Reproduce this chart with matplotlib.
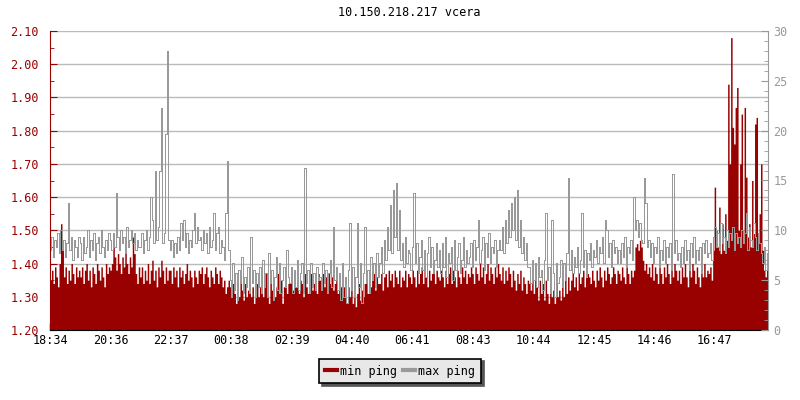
import numpy as np
import matplotlib
matplotlib.use("Agg")
import matplotlib.pyplot as plt
from matplotlib.lines import Line2D
from matplotlib.ticker import MultipleLocator

plt.rcParams['font.family'] = ['DejaVu Sans Mono']

title = "10.150.218.217 vcera"
time_labels = ["18:34", "20:36", "22:37", "00:38", "02:39", "04:40",
               "06:41", "08:43", "10:44", "12:45", "14:46", "16:47"]
step_min = 3  # one sample every 3 minutes, 24 h in total, one row = 1 hour

# min ping (left axis)
min_ping = [
    1.35, 1.38, 1.34, 1.39, 1.36, 1.33, 1.40, 1.52, 1.46, 1.36, 1.39, 1.34, 1.38, 1.35, 1.40, 1.37, 1.34, 1.39, 1.36, 1.38,
    1.36, 1.39, 1.34, 1.38, 1.40, 1.35, 1.38, 1.33, 1.39, 1.37, 1.34, 1.40, 1.38, 1.35, 1.39, 1.36, 1.33, 1.40, 1.37, 1.39,
    1.38, 1.40, 1.47, 1.42, 1.38, 1.43, 1.40, 1.37, 1.42, 1.39, 1.44, 1.40, 1.37, 1.42, 1.39, 1.48, 1.43, 1.37, 1.34, 1.39,
    1.36, 1.39, 1.34, 1.38, 1.35, 1.40, 1.34, 1.38, 1.41, 1.35, 1.38, 1.33, 1.39, 1.36, 1.41, 1.38, 1.34, 1.39, 1.35, 1.38,
    1.38, 1.34, 1.39, 1.36, 1.38, 1.33, 1.39, 1.36, 1.38, 1.34, 1.37, 1.40, 1.35, 1.38, 1.36, 1.33, 1.38, 1.36, 1.34, 1.38,
    1.37, 1.39, 1.34, 1.37, 1.39, 1.36, 1.33, 1.38, 1.36, 1.34, 1.39, 1.37, 1.34, 1.38, 1.36, 1.33, 1.35, 1.31, 1.33, 1.35,
    1.33, 1.30, 1.34, 1.31, 1.28, 1.33, 1.30, 1.35, 1.32, 1.29, 1.34, 1.30, 1.32, 1.35, 1.30, 1.33, 1.28, 1.32, 1.34, 1.30,
    1.33, 1.36, 1.30, 1.34, 1.37, 1.31, 1.28, 1.34, 1.32, 1.36, 1.30, 1.33, 1.37, 1.31, 1.35, 1.28, 1.33, 1.36, 1.31, 1.34,
    1.34, 1.37, 1.32, 1.36, 1.33, 1.37, 1.31, 1.35, 1.34, 1.30, 1.37, 1.33, 1.31, 1.36, 1.37, 1.32, 1.34, 1.36, 1.31, 1.37,
    1.35, 1.32, 1.37, 1.33, 1.36, 1.31, 1.37, 1.34, 1.36, 1.32, 1.34, 1.37, 1.31, 1.34, 1.33, 1.30, 1.33, 1.31, 1.28, 1.33,
    1.30, 1.33, 1.28, 1.32, 1.27, 1.31, 1.34, 1.29, 1.32, 1.30, 1.34, 1.35, 1.31, 1.36, 1.33, 1.35, 1.37, 1.32, 1.36, 1.34,
    1.34, 1.37, 1.32, 1.36, 1.37, 1.33, 1.38, 1.35, 1.37, 1.33, 1.38, 1.36, 1.34, 1.38, 1.33, 1.36, 1.35, 1.38, 1.33, 1.37,
    1.36, 1.34, 1.38, 1.36, 1.33, 1.38, 1.34, 1.37, 1.39, 1.34, 1.38, 1.36, 1.33, 1.38, 1.35, 1.37, 1.39, 1.34, 1.38, 1.36,
    1.35, 1.38, 1.36, 1.33, 1.38, 1.34, 1.37, 1.39, 1.34, 1.38, 1.36, 1.33, 1.38, 1.36, 1.34, 1.39, 1.36, 1.38, 1.34, 1.37,
    1.36, 1.39, 1.37, 1.34, 1.39, 1.37, 1.35, 1.40, 1.36, 1.39, 1.34, 1.37, 1.40, 1.35, 1.39, 1.37, 1.34, 1.39, 1.36, 1.40,
    1.37, 1.35, 1.39, 1.34, 1.38, 1.35, 1.39, 1.37, 1.33, 1.38, 1.35, 1.32, 1.37, 1.34, 1.38, 1.32, 1.36, 1.34, 1.31, 1.35,
    1.34, 1.32, 1.36, 1.31, 1.35, 1.33, 1.29, 1.35, 1.31, 1.34, 1.29, 1.35, 1.31, 1.28, 1.33, 1.30, 1.32, 1.28, 1.34, 1.30,
    1.32, 1.29, 1.34, 1.30, 1.35, 1.31, 1.36, 1.32, 1.35, 1.37, 1.33, 1.36, 1.32, 1.37, 1.34, 1.36, 1.38, 1.33, 1.36, 1.37,
    1.36, 1.34, 1.38, 1.35, 1.33, 1.38, 1.35, 1.39, 1.36, 1.33, 1.38, 1.35, 1.39, 1.37, 1.34, 1.36, 1.39, 1.37, 1.34, 1.38,
    1.37, 1.35, 1.39, 1.36, 1.34, 1.39, 1.37, 1.34, 1.38, 1.36, 1.38, 1.45, 1.46, 1.44, 1.47, 1.45, 1.41, 1.38, 1.40, 1.37,
    1.39, 1.36, 1.40, 1.35, 1.39, 1.37, 1.34, 1.40, 1.37, 1.34, 1.39, 1.36, 1.40, 1.37, 1.34, 1.39, 1.36, 1.40, 1.38, 1.35,
    1.38, 1.34, 1.39, 1.36, 1.40, 1.36, 1.33, 1.39, 1.36, 1.40, 1.38, 1.34, 1.39, 1.36, 1.33, 1.39, 1.36, 1.40, 1.36, 1.38,
    1.37, 1.39, 1.35, 1.44, 1.63, 1.50, 1.45, 1.57, 1.43, 1.52, 1.44, 1.55, 1.47, 1.94, 1.70, 2.08, 1.81, 1.76, 1.87, 1.93,
    1.50, 1.70, 1.85, 1.47, 1.87, 1.66, 1.48, 1.52, 1.45, 1.65, 1.49, 1.82, 1.84, 1.47, 1.55, 1.70, 1.44, 1.38, 1.36, 1.38,
]

# max ping (right axis)
max_ping = [
    8.0, 9.3, 7.3, 9.0, 8.3, 9.7, 7.7, 10.0, 8.0, 9.0, 7.3, 8.7, 12.7, 8.0, 9.3, 7.0, 9.0, 8.3, 7.3, 9.3,
    8.7, 7.0, 9.3, 7.7, 8.3, 10.0, 7.3, 9.0, 8.0, 9.7, 7.0, 8.7, 9.3, 7.7, 10.0, 8.3, 7.3, 9.0, 8.0, 9.7,
    9.0, 8.0, 9.7, 8.3, 13.7, 9.3, 8.0, 10.0, 8.7, 9.3, 7.7, 10.3, 8.3, 9.0, 10.0, 8.7, 9.7, 8.0, 9.0, 8.3,
    8.3, 9.7, 7.7, 9.0, 10.0, 8.0, 9.3, 13.3, 11.0, 8.7, 16.0, 9.0, 10.3, 16.0, 22.3, 8.7, 9.7, 19.7, 28.0, 9.0,
    8.0, 9.0, 7.3, 8.7, 7.7, 9.3, 8.0, 10.7, 9.0, 11.0, 8.3, 9.7, 7.7, 9.0, 8.3, 10.0, 11.7, 8.7, 10.3, 9.0,
    9.3, 8.0, 10.0, 8.7, 9.7, 7.7, 10.3, 8.3, 9.0, 11.7, 8.0, 9.7, 10.3, 7.7, 9.0, 8.3, 7.0, 11.7, 17.0, 8.0,
    5.0, 3.3, 6.7, 4.0, 5.7, 3.0, 6.0, 4.7, 7.3, 3.7, 5.3, 4.3, 6.3, 3.7, 9.3, 4.7, 6.0, 3.3, 5.7, 4.3,
    6.3, 3.7, 7.0, 4.3, 5.7, 3.3, 7.7, 4.7, 6.0, 3.0, 5.3, 7.3, 4.0, 6.7, 3.7, 5.0, 6.3, 4.3, 8.0, 5.3,
    4.7, 6.3, 3.7, 6.0, 4.3, 7.0, 4.0, 5.7, 6.7, 3.7, 16.3, 4.7, 6.0, 3.7, 6.7, 4.3, 5.7, 4.0, 6.3, 5.0,
    5.3, 4.0, 6.7, 4.7, 6.0, 3.7, 5.7, 7.0, 4.3, 10.3, 5.0, 6.3, 4.0, 5.7, 3.0, 6.7, 3.3, 5.3, 2.7, 6.0,
    10.7, 4.0, 6.3, 3.3, 5.3, 10.7, 4.3, 6.7, 2.7, 5.7, 10.3, 4.7, 6.0, 3.7, 7.3, 5.0, 6.7, 4.3, 7.7, 5.3,
    6.7, 8.3, 5.7, 9.0, 7.0, 10.3, 8.0, 12.5, 7.7, 14.0, 9.3, 14.7, 8.0, 12.0, 7.0, 8.7, 6.3, 9.3, 6.7, 8.0,
    7.7, 6.0, 8.3, 13.7, 6.7, 8.7, 5.7, 7.3, 9.0, 6.0, 8.0, 5.3, 7.7, 9.3, 6.3, 8.3, 5.7, 7.0, 8.7, 6.3,
    8.0, 5.7, 8.7, 6.3, 9.3, 5.3, 7.7, 6.7, 8.3, 5.0, 9.0, 6.0, 7.3, 8.7, 5.7, 7.0, 9.3, 6.3, 8.0, 6.7,
    7.3, 8.7, 6.3, 9.0, 7.0, 8.3, 11.0, 6.7, 8.0, 9.3, 6.0, 8.7, 7.3, 9.7, 6.7, 8.3, 7.7, 9.0, 6.3, 8.0,
    9.0, 8.0, 10.3, 7.7, 11.0, 8.7, 12.0, 9.3, 12.7, 10.0, 13.3, 9.0, 14.0, 8.3, 11.0, 7.7, 9.3, 7.0, 8.7, 6.3,
    6.3, 4.7, 7.0, 5.0, 6.7, 4.3, 7.3, 5.3, 6.0, 4.0, 7.0, 11.7, 5.0, 6.3, 3.7, 11.0, 5.7, 3.3, 6.7, 4.7,
    5.3, 7.0, 4.3, 6.7, 5.0, 7.7, 15.3, 6.0, 8.0, 5.7, 7.3, 6.3, 8.3, 5.7, 7.0, 11.7, 6.3, 8.0, 5.3, 7.7,
    7.0, 8.7, 6.3, 8.0, 7.3, 9.0, 6.7, 8.3, 7.7, 9.3, 6.7, 11.0, 10.0, 7.3, 8.7, 6.3, 9.0, 7.7, 8.3, 6.7,
    8.0, 6.7, 8.7, 7.3, 9.3, 6.3, 8.3, 7.7, 9.0, 7.0, 13.3, 10.0, 11.0, 9.3, 10.7, 9.0, 8.7, 15.3, 12.7, 8.3,
    9.0, 7.3, 8.7, 6.7, 8.3, 7.7, 9.3, 6.3, 8.0, 7.0, 9.0, 6.7, 8.3, 7.3, 8.7, 6.0, 15.7, 7.7, 9.0, 7.0,
    7.7, 6.3, 8.3, 6.7, 9.0, 7.0, 8.0, 6.0, 8.7, 7.3, 9.3, 6.7, 8.0, 7.0, 8.3, 5.7, 8.7, 7.7, 9.0, 7.3,
    7.7, 8.7, 7.0, 9.3, 10.3, 8.3, 9.7, 8.0, 10.7, 8.7, 9.3, 7.7, 10.0, 8.3, 9.7, 9.0, 10.3, 8.0, 9.7, 8.7,
    9.3, 8.3, 10.0, 8.7, 9.7, 11.7, 8.0, 10.3, 9.0, 8.3, 10.7, 9.3, 8.0, 9.7, 8.7, 7.7, 6.7, 8.3, 6.0, 7.7,
]

RED = '#990000'
GREY = '#999999'

x_edges = np.arange(len(min_ping) + 1) * step_min
mn = np.append(min_ping, min_ping[-1])
x_mid = np.arange(len(max_ping)) * step_min + step_min / 2

# tick positions: minutes after the first label
h0, m0 = map(int, time_labels[0].split(":"))
tick_pos = []
for t in time_labels:
    h, m = map(int, t.split(":"))
    tick_pos.append(((h * 60 + m) - (h0 * 60 + m0)) % 1440)

fig = plt.figure(figsize=(8, 4), dpi=100)
ax = fig.add_axes([0.0625, 0.175, 0.8975, 0.7475])
ax2 = ax.twinx()

ax.fill_between(x_edges, 1.2, mn, step='post', color=RED, lw=0, antialiased=False)
ax2.plot(x_mid, max_ping, drawstyle='steps-mid', color=GREY, lw=0.72, antialiased=False)

ax.set_xlim(0, 1440)
ax.set_ylim(1.2, 2.1)
ax2.set_ylim(0, 30)

ax.set_axisbelow(True)
ax.yaxis.grid(True, color='#bbbbbb', lw=1)

ax.set_xticks(tick_pos)
ax.set_xticklabels(time_labels)
ax.set_yticks(np.arange(1.2, 2.11, 0.1))
ax.set_yticklabels(["%.2f" % v for v in np.arange(1.2, 2.11, 0.1)])
ax.yaxis.set_minor_locator(MultipleLocator(0.05))
ax2.yaxis.set_major_locator(MultipleLocator(5))
ax2.yaxis.set_minor_locator(MultipleLocator(1))

ax.tick_params(axis='x', direction='in', length=5, width=1, labelsize=8.5, pad=3)
ax.tick_params(axis='y', which='both', direction='in', colors=RED, labelsize=8.5, pad=8)
ax.tick_params(axis='y', which='major', length=5)
ax.tick_params(axis='y', which='minor', length=3)
ax2.tick_params(axis='y', which='both', direction='in', colors=GREY, labelsize=8.5, pad=4)
ax2.tick_params(axis='y', which='major', length=5)
ax2.tick_params(axis='y', which='minor', length=3)

for a in (ax, ax2):
    a.spines['top'].set_visible(False)
ax.spines['right'].set_visible(False)
ax.spines['left'].set_color(RED)
ax2.spines['left'].set_visible(False)
ax2.spines['bottom'].set_visible(False)
ax2.spines['right'].set_color(GREY)

fig.text(0.511, 1 - 13 / 400, title, ha='center', va='center', fontsize=8.5)

handles = [Line2D([], [], color=RED, lw=3), Line2D([], [], color=GREY, lw=3)]
leg = fig.legend(handles, ["min ping", "max ping"], loc='center',
                 bbox_to_anchor=(0.5, 1 - 371 / 400), ncol=2, fontsize=8.5,
                 frameon=True, fancybox=False, edgecolor='black', facecolor='#e8e8e8',
                 framealpha=1, handlelength=1.0, handletextpad=0.3, columnspacing=0.5,
                 borderpad=0.5,
                 shadow={'facecolor': '#555555', 'edgecolor': '#555555', 'alpha': 1})
leg.get_frame().set_linewidth(1.2)

fig.savefig("out.png", dpi=100)
